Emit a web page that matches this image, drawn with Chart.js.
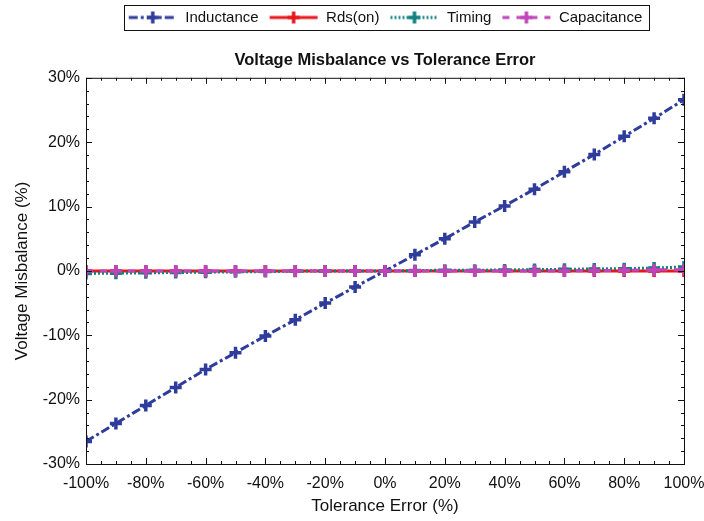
<!DOCTYPE html>
<html>
<head>
<meta charset="utf-8">
<script src="https://cdn.jsdelivr.net/npm/chart.js@4"></script>
<style>
  html, body { margin: 0; padding: 0; background: #fff; }
  #wrap { width: 704px; height: 521px; }
</style>
</head>
<body>
<div id="wrap"><canvas id="misbalanceChart" width="704" height="521"></canvas></div>
<script>
// Tolerance error on x axis (%)
const tolerance = [-100, -90, -80, -70, -60, -50, -40, -30, -20, -10, 0, 10, 20, 30, 40, 50, 60, 70, 80, 90, 100];

// Voltage misbalance (%) per parameter
const inductance = [-26.5, -23.7, -20.9, -18.1, -15.3, -12.7, -10.1, -7.6, -5.0, -2.5, 0, 2.5, 5.0, 7.6, 10.1, 12.7, 15.4, 18.1, 20.9, 23.7, 26.6];
const rdsOn = [0, 0, 0, 0, 0, 0, 0, 0, 0, 0, 0, 0, 0, 0, 0, 0, 0, 0, 0, 0, 0];
const timing = [-0.4, -0.35, -0.3, -0.25, -0.2, -0.15, -0.1, -0.05, 0, 0, 0, 0.05, 0.1, 0.1, 0.15, 0.2, 0.25, 0.3, 0.35, 0.45, 0.6];
const capacitance = [0, 0, 0, 0, 0, 0, 0, 0, 0, 0, 0, 0, 0, 0, 0, 0, 0, 0.05, 0.1, 0.15, 0.2];

const seriesNames = ['Inductance', 'Rds(on)', 'Timing', 'Capacitance'];
const seriesColors = ['#2e3c9c', '#e8161c', '#128080', '#c043b8'];
const seriesDash = [[9, 3, 3, 3], [], [2, 2], [7, 7]];

const xTicks = [-100, -80, -60, -40, -20, 0, 20, 40, 60, 80, 100];
const yTicks = [-30, -20, -10, 0, 10, 20, 30];

const FONT = 'Arial, "Liberation Sans", sans-serif';

function toPoints(arr) {
  return tolerance.map((x, i) => ({ x: x, y: arr[i] }));
}

// small picture for the legend: line + cross marker
function legendSample(color, dash) {
  const c = document.createElement('canvas');
  c.width = 50; c.height = 14;
  const g = c.getContext('2d');
  g.strokeStyle = color;
  g.lineWidth = 3;
  g.setLineDash(dash);
  g.beginPath(); g.moveTo(1, 7); g.lineTo(49, 7); g.stroke();
  g.setLineDash([]);
  g.lineWidth = 3.5;
  g.beginPath();
  g.moveTo(19, 7); g.lineTo(31, 7);
  g.moveTo(25, 1); g.lineTo(25, 13);
  g.stroke();
  return c;
}

const allSeries = [inductance, rdsOn, timing, capacitance];
const datasets = allSeries.map((arr, i) => ({
  label: seriesNames[i],
  data: toPoints(arr),
  borderColor: seriesColors[i],
  backgroundColor: seriesColors[i],
  borderWidth: 3,
  borderDash: seriesDash[i],
  pointStyle: 'cross',
  pointRadius: 6,
  pointBorderWidth: 3.5,
  pointHoverRadius: 6,
  order: [1, 3, 2, 0][i],
  legendImg: legendSample(seriesColors[i], seriesDash[i])
}));

// box around the plot + inward ticks, box around the legend
const framePlugin = {
  id: 'frame',
  afterDraw(chart) {
    const { ctx, chartArea: a, scales } = chart;
    ctx.save();
    ctx.strokeStyle = '#111';
    ctx.lineWidth = 1;
    ctx.strokeRect(a.left + 0.5, a.top + 0.5, a.right - a.left, a.bottom - a.top);
    ctx.beginPath();
    for (let v = -100; v <= 100; v += 5) {
      const x = Math.round(scales.x.getPixelForValue(v)) + 0.5;
      const len = v % 20 === 0 ? 6 : 3;
      ctx.moveTo(x, a.bottom); ctx.lineTo(x, a.bottom - len);
      ctx.moveTo(x, a.top); ctx.lineTo(x, a.top + len);
    }
    for (let v = -30; v <= 30; v += 2) {
      const y = Math.round(scales.y.getPixelForValue(v)) + 0.5;
      const len = v % 10 === 0 ? 6 : 3;
      ctx.moveTo(a.left, y); ctx.lineTo(a.left + len, y);
      ctx.moveTo(a.right, y); ctx.lineTo(a.right - len, y);
    }
    ctx.stroke();
    const lg = chart.legend;
    if (lg && lg.legendHitBoxes.length) {
      const boxes = lg.legendHitBoxes;
      const l = boxes[0].left - 4;
      const r = boxes[boxes.length - 1].left + boxes[boxes.length - 1].width + 6;
      const cy = boxes[0].top + boxes[0].height / 2;
      ctx.strokeRect(Math.round(l) + 0.5, Math.round(cy - 12.5) + 0.5, Math.round(r - l), 25);
    }
    ctx.restore();
  }
};

const ctx = document.getElementById('misbalanceChart').getContext('2d');

const config = {
  type: 'line',
  data: { datasets: datasets },
  options: {
    responsive: false,
    animation: false,
    layout: { padding: { top: 0, right: 0, left: 0, bottom: 0 } },
    plugins: {
      legend: {
        position: 'top',
        weight: 3000,
        fullSize: false,
        labels: {
          usePointStyle: true,
          pointStyleWidth: 50,
          padding: 10,
          color: '#111',
          font: { family: FONT, size: 15 },
          generateLabels(chart) {
            return chart.data.datasets.map((ds, i) => ({
              text: ds.label,
              pointStyle: ds.legendImg,
              fontColor: '#111',
              datasetIndex: i,
              hidden: false,
              lineWidth: 0
            }));
          }
        }
      },
      title: {
        display: true,
        weight: 500,
        fullSize: false,
        text: 'Voltage Misbalance vs Tolerance Error',
        color: '#111',
        font: { family: FONT, size: 16.5, weight: 'bold' },
        padding: { top: 16, bottom: 7 }
      },
      tooltip: { enabled: false }
    },
    scales: {
      x: {
        type: 'linear',
        min: -100, max: 100,
        afterBuildTicks: s => { s.ticks = xTicks.map(v => ({ value: v })); },
        afterFit: s => { s.height = 57; s.paddingRight = 20; s.paddingLeft = 0; },
        grid: { display: false, drawTicks: false },
        border: { display: false },
        ticks: {
          color: '#111',
          padding: 10,
          maxRotation: 0,
          font: { family: FONT, size: 16 },
          callback: v => v + '%'
        },
        title: {
          display: true,
          text: 'Tolerance Error (%)',
          color: '#111',
          font: { family: FONT, size: 17 },
          padding: { top: 7 }
        }
      },
      y: {
        type: 'linear',
        min: -30, max: 30,
        afterBuildTicks: s => { s.ticks = yTicks.map(v => ({ value: v })); },
        afterFit: s => { s.width = 86; },
        grid: { display: false, drawTicks: false },
        border: { display: false },
        ticks: {
          color: '#111',
          padding: 6,
          font: { family: FONT, size: 16 },
          callback: v => v + '%'
        },
        title: {
          display: true,
          text: 'Voltage Misbalance (%)',
          color: '#111',
          font: { family: FONT, size: 17 },
          padding: { top: 12, bottom: 0 }
        }
      }
    }
  },
  plugins: [framePlugin]
};

const misbalanceChart = new Chart(ctx, config);
</script>
</body>
</html>
